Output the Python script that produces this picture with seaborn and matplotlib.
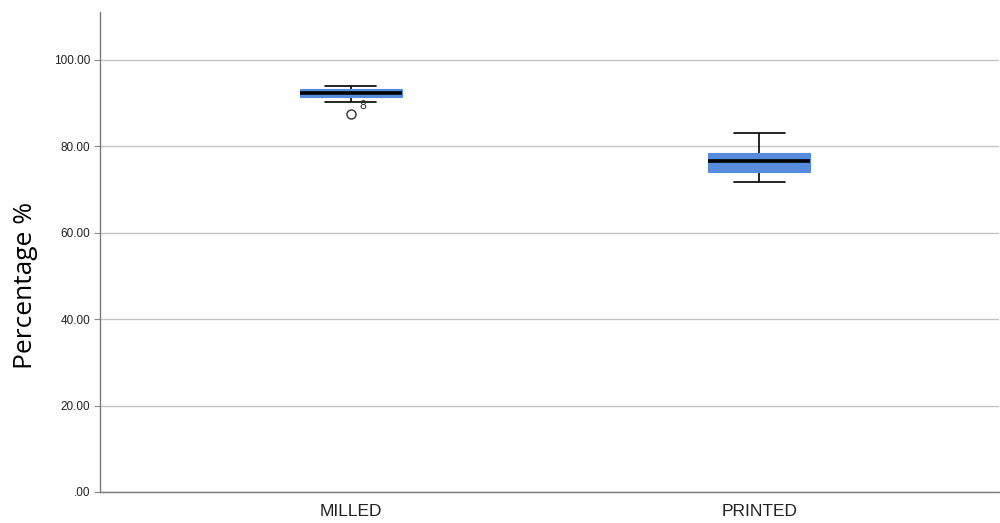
import matplotlib
matplotlib.use("Agg")
import matplotlib.pyplot as plt
import seaborn as sns
import pandas as pd

# Percentage scores per fabrication method
categories = ["MILLED", "PRINTED"]
milled = [87.4, 90.35, 91.5, 92.0, 92.4, 92.8, 93.2, 93.6, 94.05]
printed = [71.8, 73.0, 74.15, 75.3, 76.5, 77.5, 78.5, 80.5, 83.0]
y_ticks = [0, 20, 40, 60, 80, 100]
y_tick_labels = [".00", "20.00", "40.00", "60.00", "80.00", "100.00"]
outlier_label = "8"
outlier_value = 87.4

df = pd.DataFrame({
    "group": [categories[0]] * len(milled) + [categories[1]] * len(printed),
    "value": milled + printed,
})

sns.set_style("white")
plt.rcParams["font.family"] = ["Liberation Sans", "DejaVu Sans"]

fig = plt.figure(figsize=(10, 5.23), dpi=100)
ax = fig.add_axes([0.1, 0.0593, 0.899, 0.918])

box_color = "#568cdb"
sns.boxplot(
    data=df, x="group", y="value", order=categories, ax=ax,
    width=0.25, color=box_color, saturation=1, whis=1.5,
    boxprops=dict(facecolor=box_color, edgecolor=box_color, linewidth=0.8, zorder=3),
    medianprops=dict(color="black", linewidth=2.6, zorder=4),
    whiskerprops=dict(color="black", linewidth=1.2, zorder=2),
    capprops=dict(color="black", linewidth=1.2, zorder=2),
    flierprops=dict(marker="o", markersize=6.5, markerfacecolor="white",
                    markeredgecolor="#333333", markeredgewidth=1.0, zorder=4),
)

# Case number beside the outlier
ax.text(0.022, outlier_value + 1.9, outlier_label, fontsize=9, color="#333333",
        ha="left", va="center", zorder=5)

ax.set_xlim(-0.614, 1.587)
ax.set_ylim(0, 111.1)
ax.set_yticks(y_ticks)
ax.set_yticklabels(y_tick_labels, fontsize=8.5, color="#222222")
ax.tick_params(axis="y", which="major", length=4, width=0.8, color="#888888", pad=3, left=True)
ax.tick_params(axis="x", labelsize=12.5, colors="#222222", length=0, pad=9)
ax.yaxis.grid(True, color="#c4c4c4", linewidth=1.0, zorder=0)
ax.set_axisbelow(True)

ax.set_xlabel("")
ax.set_ylabel("Percentage %", fontsize=19, family=["Open Sans", "DejaVu Sans"],
              color="black")
ax.yaxis.set_label_coords(-0.069, 0.43)

for side in ["top", "right"]:
    ax.spines[side].set_visible(False)
for side in ["left", "bottom"]:
    ax.spines[side].set_color("#7a7a7a")
    ax.spines[side].set_linewidth(1.0)

fig.savefig("out.png", dpi=100, facecolor="white")
